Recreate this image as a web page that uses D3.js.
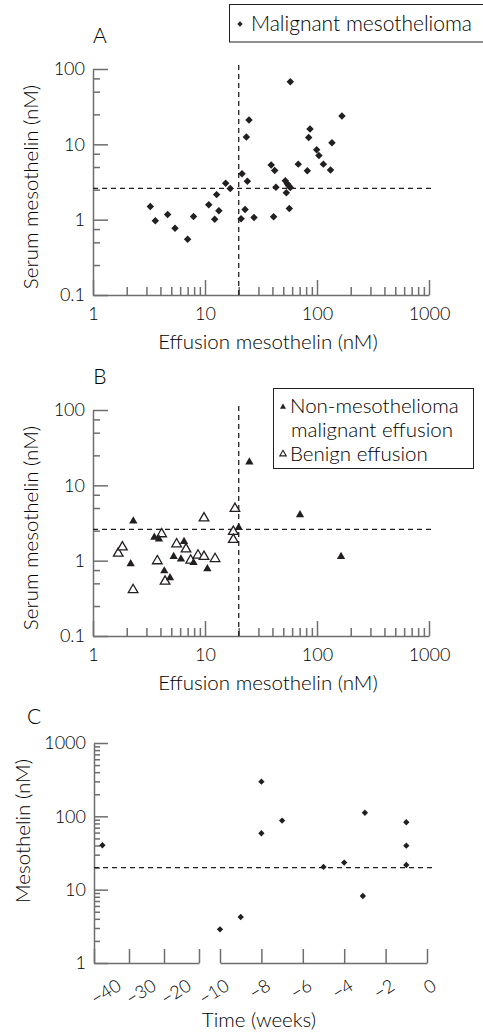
<!DOCTYPE html>
<html>
<head>
<meta charset="utf-8">
<script src="https://cdn.jsdelivr.net/npm/d3@7"></script>
<style>
  body { margin: 0; background: #fff; }
  svg { display: block; }
  text { font-family: Lato, "Noto Sans", sans-serif; font-weight: 300; fill: #000; }
  .axis path, .axis line { stroke: #6d6e70; stroke-width: 1.5; }
  .axis text { font-family: Lato, "Noto Sans", sans-serif; font-weight: 300; font-size: 18px; fill: #000; }
  .ref { stroke: #231f20; stroke-width: 1.3; stroke-dasharray: 5 4; fill: none; }
</style>
</head>
<body>
<svg id="chart" width="483" height="1034"></svg>
<script>
// Panel A: malignant mesothelioma, [effusion nM, serum nM]
const mesoPoints = [
  [3.25, 1.5], [3.6, 0.97], [4.64, 1.17], [5.4, 0.77], [7.0, 0.55], [7.9, 1.1],
  [10.8, 1.58], [12.2, 1.01], [13.3, 1.31], [12.7, 2.15], [15.3, 3.05], [16.8, 2.59],
  [21.4, 4.07], [23.9, 3.24], [22.8, 1.36], [21, 1.03], [57.8, 67.7], [24.7, 21.1],
  [23.4, 12.5], [167, 23.8], [86.6, 16], [84.3, 12.3], [136, 10.5], [99.3, 8.5],
  [104, 7.1], [114, 5.46], [132, 4.55], [68, 5.46], [82, 4.46], [39, 5.3],
  [41.9, 4.5], [43, 2.7], [52.1, 3.28], [54.3, 3.0], [55.9, 2.81], [57.8, 2.67],
  [53.2, 2.27], [56.6, 1.41], [41, 1.09], [27.4, 1.07]
];

// Panel B: non-mesothelioma malignant effusion and benign effusion
const malignantPoints = [
  [2.29, 3.35], [2.17, 0.91], [3.53, 2.04], [3.88, 1.94], [4.33, 0.73], [4.87, 0.59],
  [5.25, 1.13], [6.1, 1.05], [6.5, 1.79], [7.9, 0.94], [10.5, 0.78], [20, 2.75],
  [24.9, 20.4], [70.5, 4.07], [164, 1.13]
];
const benignPoints = [
  [1.68, 1.25], [1.83, 1.51], [2.28, 0.41], [3.75, 0.99], [4.1, 2.26], [4.4, 0.53],
  [5.58, 1.66], [6.77, 1.42], [7.45, 1.01], [8.66, 1.18], [9.8, 1.13], [12.3, 1.06],
  [9.8, 3.67], [18.5, 4.9], [17.9, 2.43], [17.9, 1.9]
];

// Panel C: time before diagnosis (weeks) vs mesothelin (nM)
const timeWeeks = [-37.6, -10, -9, -8, -8, -7, -5, -4, -3.1, -3, -1, -1, -1];
const timeLevels = [40.3, 2.88, 4.24, 58.8, 297, 87.4, 20.4, 23.4, 8.2, 112, 83, 39.8, 21.7];

// cut-offs
const effusionCut = 20;
const serumCut = 2.6;
const timeCut = 20;

const logTicksX = [1, 10, 100, 1000];
const logMinorX = [1, 10, 100].flatMap(d => [2, 3, 4, 5, 6, 7, 8, 9].map(m => m * d));
const logTicksY = [0.1, 1, 10, 100];
const logMinorY = [0.1, 1, 10].flatMap(d => [2.5, 5, 7.5].map(m => m * d));
const weekTicksLeft = [-40, -30, -20, -10];
const weekTicksRight = [-10, -8, -6, -4, -2, 0];
const concTicksC = [1, 10, 100, 1000];
const concMinorC = [1, 10, 100].flatMap(d => [2, 3, 4, 5, 6, 7, 8, 9].map(m => m * d));

const svg = d3.select("#chart");
svg.append("rect").attr("width", 483).attr("height", 1034).attr("fill", "#fff");

const fmt = d => (d < 1 ? "0.1" : d3.format("d")(d));
const diamond = d3.symbol(d3.symbolSquare, 28);
const smallDiamond = d3.symbol(d3.symbolSquare, 20);
const triFilled = d3.symbol(d3.symbolTriangle, 30);
const triOpen = d3.symbol(d3.symbolTriangle, 40);

function scatterPanel(top, label) {
  const x = d3.scaleLog().domain([1, 1000]).range([93, 429]);
  const y = d3.scaleLog().domain([0.1, 100]).range([top + 226, top]);
  const g = svg.append("g");

  // minor ticks
  g.append("g").attr("class", "axis")
    .attr("transform", `translate(0,${y(0.1)})`)
    .call(d3.axisBottom(x).tickValues(logMinorX).tickSize(-8).tickFormat(""))
    .call(s => s.select(".domain").remove());
  g.append("g").attr("class", "axis")
    .attr("transform", `translate(${x(1)},0)`)
    .call(d3.axisLeft(y).tickValues(logMinorY).tickSize(-7).tickFormat(""))
    .call(s => s.select(".domain").remove());

  // major
  g.append("g").attr("class", "axis")
    .attr("transform", `translate(0,${y(0.1)})`)
    .call(d3.axisBottom(x).tickValues(logTicksX).tickSize(-15).tickSizeOuter(0)
      .tickPadding(12).tickFormat(fmt));
  g.append("g").attr("class", "axis")
    .attr("transform", `translate(${x(1)},0)`)
    .call(d3.axisLeft(y).tickValues(logTicksY).tickSize(-15).tickSizeOuter(0)
      .tickPadding(8).tickFormat(fmt));

  // reference lines
  g.append("line").attr("class", "ref")
    .attr("x1", x(1)).attr("x2", x(1130))
    .attr("y1", y(serumCut)).attr("y2", y(serumCut));
  g.append("line").attr("class", "ref")
    .attr("x1", x(effusionCut)).attr("x2", x(effusionCut))
    .attr("y1", y(0.1)).attr("y2", y(122));

  // titles
  g.append("text").attr("x", 268).attr("y", y(0.1) + 54)
    .attr("text-anchor", "middle").attr("font-size", 20.5)
    .text("Effusion mesothelin (nM)");
  g.append("text")
    .attr("transform", `translate(31,${top + 118}) rotate(-90)`)
    .attr("text-anchor", "middle").attr("dy", "0.35em").attr("font-size", 20.5)
    .text("Serum mesothelin (nM)");
  g.append("text").attr("x", 100).attr("y", top - 26)
    .attr("text-anchor", "middle").attr("font-size", 21)
    .text(label);

  return { g, x, y };
}

// ---- Panel A ----
const A = scatterPanel(69, "A");
A.g.selectAll(".meso").data(mesoPoints).join("path")
  .attr("class", "meso")
  .attr("d", diamond)
  .attr("fill", "#231f20")
  .attr("transform", d => `translate(${A.x(d[0])},${A.y(d[1])}) rotate(45)`);

const legA = svg.append("g");
legA.append("rect").attr("x", 229.5).attr("y", 4.5).attr("width", 260).attr("height", 37.5)
  .attr("fill", "#fff").attr("stroke", "#231f20").attr("stroke-width", 1);
legA.append("path").attr("d", d3.symbol(d3.symbolSquare, 14))
  .attr("fill", "#231f20").attr("transform", "translate(240,24) rotate(45)");
legA.append("text").attr("x", 251).attr("y", 31).attr("font-size", 21)
  .text("Malignant mesothelioma");

// ---- Panel B ----
const B = scatterPanel(410, "B");
B.g.selectAll(".benign").data(benignPoints).join("path")
  .attr("class", "benign")
  .attr("d", triOpen)
  .attr("fill", "#fff").attr("stroke", "#231f20").attr("stroke-width", 1.3)
  .attr("transform", d => `translate(${B.x(d[0])},${B.y(d[1])})`);
B.g.selectAll(".malig").data(malignantPoints).join("path")
  .attr("class", "malig")
  .attr("d", triFilled)
  .attr("fill", "#231f20")
  .attr("transform", d => `translate(${B.x(d[0])},${B.y(d[1])})`);

const legB = svg.append("g");
legB.append("rect").attr("x", 273.5).attr("y", 388.5).attr("width", 200).attr("height", 80)
  .attr("fill", "#fff").attr("stroke", "#231f20").attr("stroke-width", 1);
legB.append("path").attr("d", d3.symbol(d3.symbolTriangle, 16))
  .attr("fill", "#231f20").attr("transform", "translate(283,407)");
legB.append("text").attr("x", 290).attr("y", 413).attr("font-size", 20.5).text("Non-mesothelioma");
legB.append("text").attr("x", 291).attr("y", 437).attr("font-size", 20.5).text("malignant effusion");
legB.append("path").attr("d", d3.symbol(d3.symbolTriangle, 18))
  .attr("fill", "#fff").attr("stroke", "#231f20").attr("stroke-width", 1.1)
  .attr("transform", "translate(283,454)");
legB.append("text").attr("x", 290).attr("y", 461).attr("font-size", 20.5).text("Benign effusion");

// ---- Panel C ----
const cy = d3.scaleLog().domain([1, 1000]).range([963, 743]);
const cxLeft = d3.scaleLinear().domain([-40, -10]).range([94, 199]);
const cxRight = d3.scaleLinear().domain([-10, 0]).range([220, 427]);
const cx = t => (t < -10.5 ? cxLeft(t) : cxRight(t));
const C = svg.append("g");

C.append("g").attr("class", "axis")
  .attr("transform", `translate(${cxLeft(-40)},0)`)
  .call(d3.axisLeft(cy).tickValues(concMinorC).tickSize(-6).tickFormat(""))
  .call(s => s.select(".domain").remove());
C.append("g").attr("class", "axis")
  .attr("transform", `translate(${cxLeft(-40)},0)`)
  .call(d3.axisLeft(cy).tickValues(concTicksC).tickSize(-14).tickSizeOuter(0)
    .tickPadding(8).tickFormat(d3.format("d")));

const tilt = (sel, dx) => sel.selectAll(".tick text")
  .attr("text-anchor", "end").attr("dy", null).attr("y", null)
  .attr("transform", `translate(${dx},26) rotate(-32)`);

C.append("g").attr("class", "axis")
  .attr("transform", `translate(0,${cy(1)})`)
  .call(d3.axisBottom(cxLeft).tickValues(weekTicksLeft).tickSize(-14).tickSizeOuter(0)
    .tickFormat(d => (d === -10 ? "" : "\u2212" + Math.abs(d))))
  .call(s => tilt(s, 28));
C.append("g").attr("class", "axis")
  .attr("transform", `translate(0,${cy(1)})`)
  .call(d3.axisBottom(cxRight).tickValues(weekTicksRight).tickSize(-14).tickSizeOuter(0)
    .tickFormat(d => (d === 0 ? "0" : "\u2212" + Math.abs(d))))
  .call(s => tilt(s, 10));

C.append("line").attr("class", "ref")
  .attr("x1", cxLeft(-40)).attr("x2", cxRight(0.4))
  .attr("y1", cy(timeCut)).attr("y2", cy(timeCut));

C.selectAll(".pt").data(timeWeeks.map((t, i) => [t, timeLevels[i]])).join("path")
  .attr("class", "pt")
  .attr("d", smallDiamond)
  .attr("fill", "#231f20")
  .attr("transform", d => `translate(${cx(d[0])},${cy(d[1])}) rotate(45)`);

C.append("text").attr("x", 259).attr("y", 1027)
  .attr("text-anchor", "middle").attr("font-size", 20.5).text("Time (weeks)");
C.append("text")
  .attr("transform", "translate(23,831) rotate(-90)")
  .attr("text-anchor", "middle").attr("dy", "0.35em").attr("font-size", 20.5)
  .text("Mesothelin (nM)");
C.append("text").attr("x", 34).attr("y", 724)
  .attr("text-anchor", "middle").attr("font-size", 21).text("C");
</script>
</body>
</html>
